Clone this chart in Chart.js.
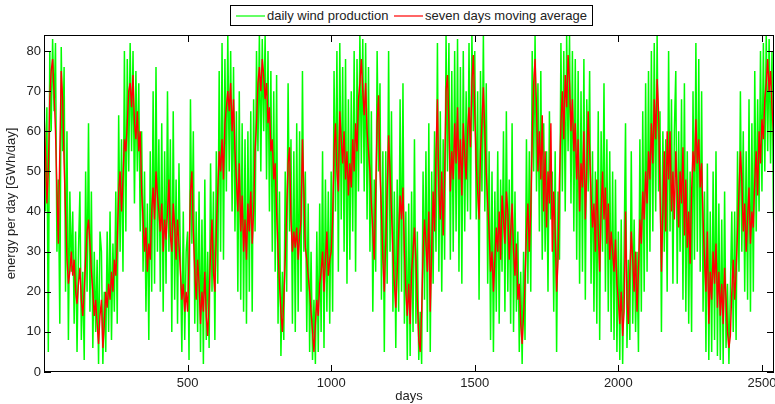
<!DOCTYPE html>
<html>
<head>
<meta charset="utf-8">
<script src="https://cdn.jsdelivr.net/npm/chart.js@4"></script>
<style>
  body { margin: 0; background: #fff; }
  #wrap { position: relative; width: 775px; height: 404px; font-family: "Liberation Sans", Arial, sans-serif; }
  #legend { position: absolute; left: 230px; top: 5px; width: 361px; height: 19px; border: 1px solid #000; background: #fff; font-size: 13px; color: #222; }
  #legend svg { position: absolute; top: 0; left: 0; }
  #legend .tx { position: absolute; top: 2px; line-height: 15px; white-space: nowrap; }
</style>
</head>
<body>
<div id="wrap">
  <canvas id="windChart" width="775" height="404"></canvas>
  <div id="legend">
    <svg width="361" height="19">
      <line x1="5" y1="10" x2="34" y2="10" stroke="#00ff00" stroke-width="1.2"></line>
      <line x1="163" y1="10" x2="192" y2="10" stroke="#ff0000" stroke-width="1.2"></line>
    </svg>
    <div class="tx" style="left:36px">daily wind production</div>
    <div class="tx" style="left:194px">seven days moving average</div>
  </div>
</div>
<script>
// one value every 5 days
const dayStep = 5;

const windDaily = [
  74, 40, 66, 5, 80, 60, 83, 65, 82, 30, 48, 12, 81, 55, 76, 20, 60, 8, 45, 25,
  40, 12, 35, 5, 30, 45, 8, 25, 3, 50, 20, 62, 15, 45, 6, 30, 10, 28, 2, 35,
  30, 2, 20, 5, 35, 10, 40, 8, 32, 15, 45, 12, 64, 30, 58, 25, 80, 35, 78, 50,
  82, 55, 80, 42, 75, 50, 72, 35, 60, 25, 50, 15, 42, 8, 55, 20, 70, 22, 76, 30,
  58, 20, 62, 15, 55, 22, 70, 30, 58, 10, 65, 18, 48, 12, 52, 28, 5, 40, 8, 30,
  35, 3, 68, 32, 60, 12, 40, 10, 45, 5, 38, 2, 48, 8, 30, 6, 52, 20, 45, 8,
  55, 22, 75, 30, 82, 28, 78, 45, 84, 50, 80, 40, 76, 35, 65, 20, 70, 18, 62, 15,
  58, 12, 60, 20, 65, 15, 68, 35, 80, 55, 84, 50, 83, 60, 84, 48, 80, 40, 75, 30,
  70, 25, 74, 12, 45, 4, 25, 8, 50, 20, 72, 35, 58, 12, 55, 10, 62, 15, 60, 20,
  75, 30, 50, 10, 42, 5, 30, 3, 18, 2, 35, 5, 42, 10, 55, 6, 48, 15, 45, 12,
  50, 15, 75, 40, 80, 25, 82, 38, 76, 30, 78, 22, 68, 28, 70, 35, 80, 25, 78, 45,
  84, 52, 83, 45, 82, 38, 76, 30, 65, 15, 48, 25, 80, 50, 72, 18, 55, 5, 55, 22,
  80, 30, 65, 15, 45, 6, 48, 15, 68, 20, 72, 12, 40, 3, 42, 4, 45, 10, 58, 12,
  35, 3, 15, 2, 50, 18, 55, 10, 62, 5, 50, 22, 60, 30, 82, 25, 65, 20, 58, 28,
  84, 50, 82, 28, 75, 30, 80, 35, 83, 25, 76, 22, 80, 35, 70, 40, 82, 38, 84, 60,
  80, 38, 70, 18, 75, 45, 84, 40, 72, 22, 55, 8, 50, 5, 45, 15, 55, 12, 48, 25,
  60, 15, 65, 20, 48, 12, 62, 10, 45, 15, 35, 5, 25, 2, 30, 8, 58, 22, 55, 20,
  80, 50, 84, 45, 72, 35, 75, 28, 62, 30, 55, 20, 65, 38, 50, 15, 55, 5, 45, 28,
  82, 45, 80, 40, 84, 55, 84, 42, 80, 35, 78, 28, 75, 22, 70, 25, 78, 18, 68, 45,
  75, 22, 55, 15, 50, 12, 65, 8, 60, 30, 72, 20, 58, 15, 55, 10, 50, 8, 48, 5,
  35, 3, 38, 2, 30, 62, 6, 28, 8, 55, 12, 38, 10, 30, 5, 58, 15, 65, 20, 72,
  25, 75, 30, 80, 35, 82, 40, 84, 45, 65, 10, 60, 30, 58, 20, 80, 35, 68, 22, 60,
  75, 22, 60, 30, 68, 18, 72, 15, 55, 12, 50, 10, 70, 28, 82, 30, 78, 25, 70, 15,
  45, 5, 52, 3, 40, 5, 50, 8, 55, 4, 42, 3, 38, 2, 45, 6, 22, 2, 20, 40,
  10, 40, 8, 55, 25, 70, 30, 60, 20, 55, 18, 68, 15, 62, 20, 75, 35, 68, 40, 80,
  45, 82, 50, 84, 55, 83, 52, 80, 40, 27
];

const weekAverage = [
  65, 55, 42, 50, 68, 75, 78, 70, 60, 45, 32, 55, 75, 68, 52, 40, 28, 22, 25, 30,
  24, 28, 20, 17, 22, 26, 18, 14, 20, 28, 35, 38, 32, 25, 20, 14, 18, 12, 7, 14,
  18, 6, 12, 20, 16, 22, 18, 25, 20, 28, 24, 32, 45, 50, 40, 48, 58, 55, 62, 70,
  72, 66, 74, 62, 58, 65, 55, 60, 45, 38, 30, 36, 25, 32, 28, 40, 46, 38, 50, 44,
  40, 35, 42, 30, 38, 33, 40, 48, 34, 30, 42, 36, 28, 38, 32, 25, 18, 22, 15, 20,
  15, 28, 45, 50, 35, 25, 18, 28, 22, 12, 20, 15, 25, 14, 9, 18, 30, 38, 25, 20,
  35, 45, 55, 50, 58, 48, 62, 66, 70, 65, 72, 60, 68, 55, 48, 40, 52, 35, 44, 30,
  38, 28, 42, 35, 45, 32, 40, 55, 62, 72, 76, 70, 78, 74, 68, 72, 62, 66, 55, 58,
  48, 52, 40, 30, 22, 15, 10, 18, 28, 40, 52, 56, 38, 30, 35, 31, 36, 28, 34, 38,
  58, 45, 31, 28, 24, 20, 15, 10, 5, 12, 18, 14, 22, 25, 30, 20, 28, 35, 24, 28,
  30, 38, 55, 62, 50, 45, 65, 58, 52, 60, 48, 55, 44, 52, 46, 58, 50, 62, 55, 68,
  72, 78, 70, 64, 72, 60, 55, 50, 42, 35, 28, 45, 62, 69, 50, 40, 28, 20, 32, 45,
  59, 50, 40, 30, 22, 16, 25, 35, 44, 38, 46, 30, 20, 14, 22, 12, 25, 30, 36, 28,
  18, 8, 5, 15, 30, 38, 32, 25, 40, 15, 30, 45, 35, 55, 68, 45, 38, 50, 34, 48,
  70, 74, 62, 45, 55, 48, 62, 52, 66, 48, 58, 44, 62, 54, 48, 60, 66, 56, 72, 79,
  65, 52, 45, 38, 55, 62, 71, 60, 50, 42, 35, 25, 30, 20, 28, 36, 30, 40, 28, 44,
  38, 32, 45, 40, 28, 35, 42, 30, 24, 32, 18, 22, 12, 7, 14, 22, 35, 42, 30, 40,
  58, 72, 78, 66, 50, 60, 48, 64, 40, 55, 36, 50, 42, 62, 30, 45, 35, 20, 28, 48,
  62, 70, 58, 74, 66, 79, 72, 60, 68, 55, 62, 48, 58, 40, 52, 46, 60, 38, 50, 65,
  55, 44, 36, 42, 30, 48, 35, 25, 40, 50, 38, 46, 32, 42, 28, 35, 30, 25, 33, 22,
  18, 12, 20, 9, 15, 40, 18, 12, 25, 35, 28, 20, 30, 15, 25, 38, 32, 45, 38, 50,
  42, 55, 48, 62, 52, 68, 58, 73, 65, 45, 25, 40, 55, 35, 60, 48, 60, 40, 50, 38,
  55, 45, 36, 50, 42, 56, 34, 48, 31, 40, 27, 45, 55, 50, 63, 52, 58, 46, 52, 38,
  28, 20, 35, 12, 25, 18, 30, 22, 32, 16, 25, 14, 22, 12, 26, 18, 10, 6, 9, 20,
  28, 18, 25, 35, 45, 55, 48, 35, 42, 30, 38, 46, 32, 40, 36, 48, 55, 44, 60, 52,
  63, 58, 68, 72, 78, 70, 75, 66, 60, 35
];

const xTicks = [0, 500, 1000, 1500, 2000, 2500];
const yTicks = [0, 10, 20, 30, 40, 50, 60, 70, 80];

const days = windDaily.map((v, i) => i * dayStep);
const toPoints = arr => arr.map((v, i) => ({ x: days[i], y: v }));

const font = { family: '"Liberation Sans", Arial, sans-serif', size: 13 };

// box around the plot with matlab style inward ticks
const framePlugin = {
    id: 'frame',
    afterDatasetsDraw(chart) {
        const { ctx, chartArea: a, scales } = chart;
        ctx.save();
        ctx.strokeStyle = '#000';
        ctx.lineWidth = 1;
        ctx.strokeRect(a.left + 0.5, a.top + 0.5, a.right - a.left - 1, a.bottom - a.top - 1);
        ctx.beginPath();
        xTicks.forEach(function(t) {
            const px = Math.round(scales.x.getPixelForValue(t)) + 0.5;
            ctx.moveTo(px, a.bottom); ctx.lineTo(px, a.bottom - 7);
            ctx.moveTo(px, a.top); ctx.lineTo(px, a.top + 7);
        });
        yTicks.forEach(function(t) {
            const py = Math.round(scales.y.getPixelForValue(t)) + 0.5;
            ctx.moveTo(a.left, py); ctx.lineTo(a.left + 7, py);
            ctx.moveTo(a.right, py); ctx.lineTo(a.right - 7, py);
        });
        ctx.stroke();
        ctx.restore();
    }
};

new Chart(document.getElementById('windChart'), {
    type: 'line',
    data: {
        datasets: [{
            label: 'seven days moving average',
            data: toPoints(weekAverage),
            borderColor: '#ff0000',
            borderWidth: 1.4,
            borderJoinStyle: 'bevel',
            pointRadius: 0,
            order: 1
        }, {
            label: 'daily wind production',
            data: toPoints(windDaily),
            borderColor: '#00ff00',
            borderWidth: 1.5,
            borderJoinStyle: 'bevel',
            pointRadius: 0,
            order: 2
        }]
    },
    options: {
        responsive: false,
        animation: false,
        layout: { padding: { top: 35, right: 1, left: 0, bottom: 0 } },
        plugins: {
            legend: { display: false },
            tooltip: { enabled: false }
        },
        scales: {
            x: {
                type: 'linear',
                min: 0,
                max: 2542,
                grid: { display: false, drawTicks: false },
                border: { display: false },
                afterBuildTicks: function(scale) {
                    scale.ticks = xTicks.map(v => ({ value: v }));
                },
                afterFit: function(scale) {
                    scale.height = 32;
                    scale.paddingLeft = 0;
                    scale.paddingRight = 0;
                },
                ticks: {
                    font: font,
                    color: '#222',
                    padding: 4,
                    maxRotation: 0,
                    autoSkip: false,
                    callback: v => v === 0 ? '' : v
                },
                title: { display: true, text: 'days', font: font, color: '#222', padding: { top: 0, bottom: 0 } }
            },
            y: {
                min: 0,
                max: 84,
                grid: { display: false, drawTicks: false },
                border: { display: false },
                afterBuildTicks: function(scale) {
                    scale.ticks = yTicks.map(v => ({ value: v }));
                },
                afterFit: function(scale) {
                    scale.width = 44;
                    scale.paddingTop = 0;
                    scale.paddingBottom = 0;
                },
                ticks: { font: font, color: '#222', padding: 3 },
                title: { display: true, text: 'energy per day [GWh/day]', font: font, color: '#222', padding: { top: 4, bottom: 0 } }
            }
        }
    },
    plugins: [framePlugin]
});
</script>
</body>
</html>
